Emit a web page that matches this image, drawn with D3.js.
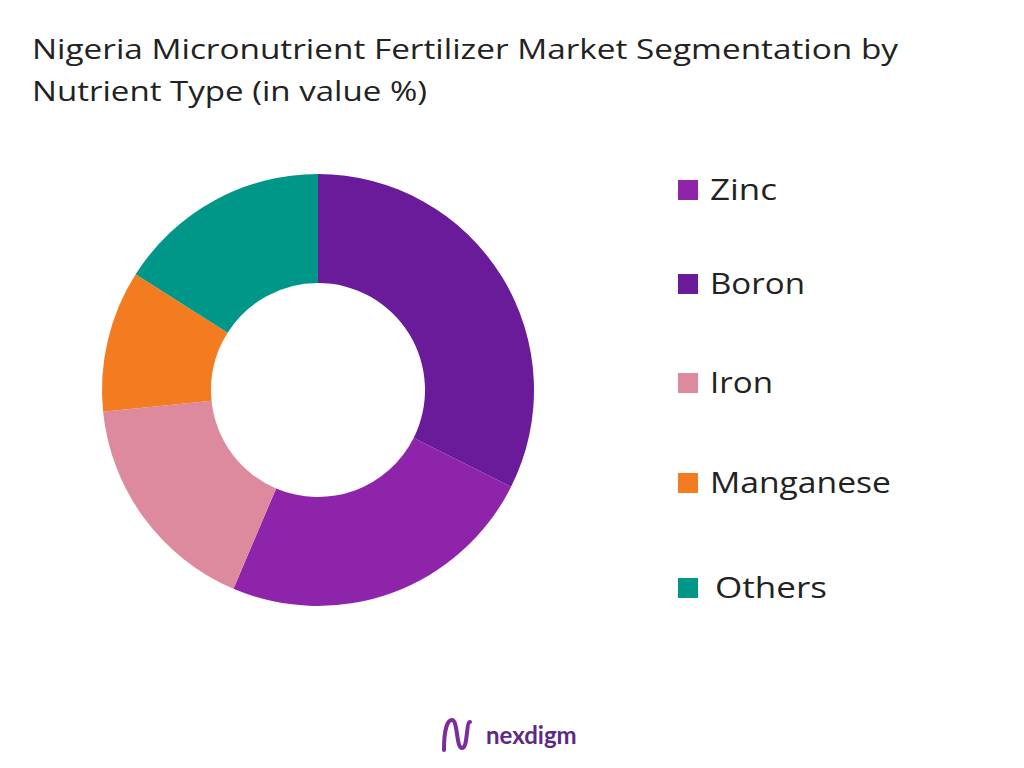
<!DOCTYPE html>
<html><head><meta charset="utf-8">
<script src="https://cdn.jsdelivr.net/npm/d3@7"></script>
<style>body{margin:0;background:#fff}svg{display:block}</style>
</head><body>
<script>
const pieOrder = ["Boron","Zinc","Iron","Manganese","Others"];
const pieValues = [32.4,24,17,10.6,16];
const legendOrder = ["Zinc","Boron","Iron","Manganese","Others"];
const colors = {Boron:"#6A1B9A",Zinc:"#8E24AA",Iron:"#DE8A9E",Manganese:"#F47C20",Others:"#009688"};
const titleLines = ["Nigeria Micronutrient Fertilizer Market Segmentation by","Nutrient Type (in value %)"];

const svg = d3.select("body").append("svg").attr("width",1024).attr("height",768);
const titleW = [866,395];
svg.selectAll("text.t").data(titleLines).join("text")
  .attr("x",32).attr("y",(d,i)=>59+i*42).attr("font-family","'Open Sans', sans-serif")
  .attr("font-size",27).attr("fill","#222").attr("textLength",(d,i)=>titleW[i])
  .attr("lengthAdjust","spacingAndGlyphs").text(d=>d);

const data = pieOrder.map((k,i)=>({k,v:pieValues[i]}));
const pie = d3.pie().value(d=>d.v).sort(null);
const arc = d3.arc().innerRadius(107).outerRadius(216);
svg.append("g").attr("transform","translate(318,390)")
  .selectAll("path").data(pie(data)).join("path")
  .attr("d",arc).attr("fill",d=>colors[d.data.k]);

const ly = [190,284,383,483,588];
const lx = [710,710,710,710,715];
const lw = [67,95,63,181,112];
const lg = svg.append("g").selectAll("g").data(legendOrder).join("g")
  .attr("transform",(d,i)=>`translate(678,${ly[i]})`);
lg.append("rect").attr("x",0).attr("y",-10).attr("width",20).attr("height",20).attr("fill",d=>colors[d]);
lg.append("text").attr("x",(d,i)=>lx[i]-678).attr("y",10).attr("font-family","'Open Sans', sans-serif")
  .attr("font-size",29).attr("fill","#222").attr("textLength",(d,i)=>lw[i])
  .attr("lengthAdjust","spacingAndGlyphs").text(d=>d);

const logo = svg.append("g").attr("transform","translate(440,718)");
logo.append("path").attr("d","M4,32 C4,10 8,2 12,2 C18,2 16,30 22,30 C28,30 26,4 30,4")
  .attr("fill","none").attr("stroke","#7B2D9E").attr("stroke-width",4).attr("stroke-linecap","round");
logo.append("text").attr("x",46).attr("y",26).attr("font-family","Lato, sans-serif")
  .attr("font-weight","bold").attr("font-size",24).attr("fill","#5B2A86").text("nexdigm");
</script>
</body></html>
